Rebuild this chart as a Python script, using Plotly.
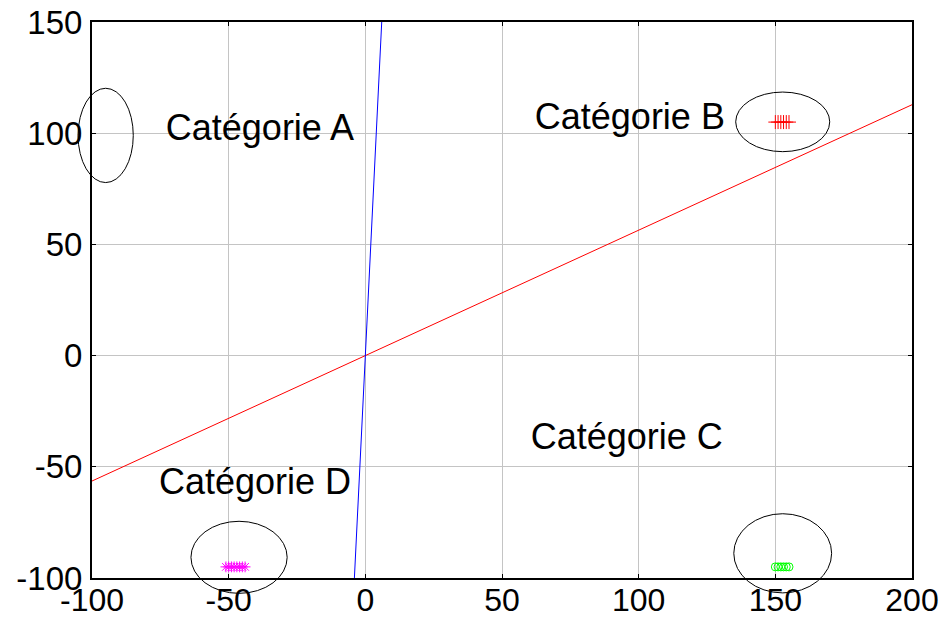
import plotly.graph_objects as go

# Axis limits and ticks
x_range = [-100, 200]
y_range = [-100, 150]
x_ticks = [-100, -50, 0, 50, 100, 150, 200]
y_ticks = [-100, -50, 0, 50, 100, 150]

# Separating lines (two end points each)
blue_line_x = [-4, 6]
blue_line_y = [-100, 150]
red_line_x = [-100, 200]
red_line_y = [-56.4, 112.8]

# Class samples
a_x = [-101]
a_y = [100]
b_x = [150, 151, 152, 153, 154, 155]
b_y = [105, 105, 105, 105, 105, 105]
c_x = [150, 151, 152, 153, 154, 155]
c_y = [-95, -95, -95, -95, -95, -95]
d_x = [-51, -50, -49, -48, -47, -46, -45, -44]
d_y = [-95, -95, -95, -95, -95, -95, -95, -95]

# Category labels (left anchor)
label_text = ["Catégorie A", "Catégorie B", "Catégorie C", "Catégorie D"]
label_x = [-73, 62, 60.5, -75.5]
label_y = [101, 106, -38, -58]

# Cluster ellipses: centre x, centre y, radius x, radius y
ell_cx = [-95, 152.7, 152.7, -46.2]
ell_cy = [99, 105.1, -88.9, -90.7]
ell_rx = [10.1, 17.2, 17.9, 17.6]
ell_ry = [21.2, 13.4, 17.8, 16.2]

fig = go.Figure()

fig.add_trace(go.Scatter(x=red_line_x, y=red_line_y, mode="lines",
                         line=dict(color="#ff0000", width=1), showlegend=False))
fig.add_trace(go.Scatter(x=blue_line_x, y=blue_line_y, mode="lines",
                         line=dict(color="#0000ff", width=1), showlegend=False))

fig.add_trace(go.Scatter(x=a_x, y=a_y, mode="markers", cliponaxis=False,
                         marker=dict(symbol="square-open", size=10, color="#0000ff",
                                     line=dict(width=1)), showlegend=False))
fig.add_trace(go.Scatter(x=b_x, y=b_y, mode="markers", cliponaxis=False,
                         marker=dict(symbol="cross-thin-open", size=10, color="#ff0000",
                                     line=dict(width=1, color="#ff0000")), showlegend=False))
fig.add_trace(go.Scatter(x=c_x, y=c_y, mode="markers", cliponaxis=False,
                         marker=dict(symbol="circle-open", size=8, color="#00ff00",
                                     line=dict(width=1, color="#00ff00")), showlegend=False))
fig.add_trace(go.Scatter(x=d_x, y=d_y, mode="markers", cliponaxis=False,
                         marker=dict(symbol="asterisk-open", size=9, color="#ff00ff",
                                     line=dict(width=1, color="#ff00ff")), showlegend=False))

fig.add_trace(go.Scatter(x=label_x, y=label_y, mode="text", text=label_text,
                         textposition="middle right", cliponaxis=False,
                         textfont=dict(family="Liberation Sans, Arial, sans-serif",
                                       size=36, color="black"),
                         showlegend=False))

# Ellipses are placed in axis-domain units so they may spill past the frame
def to_dom(v, rng):
    return (v - rng[0]) / (rng[1] - rng[0])

for cx, cy, rx, ry in zip(ell_cx, ell_cy, ell_rx, ell_ry):
    fig.add_shape(type="circle", xref="x domain", yref="y domain",
                  x0=to_dom(cx - rx, x_range), x1=to_dom(cx + rx, x_range),
                  y0=to_dom(cy - ry, y_range), y1=to_dom(cy + ry, y_range),
                  line=dict(color="black", width=1), layer="above")

axis_common = dict(showgrid=True, gridcolor="#c4c4c4", gridwidth=1,
                   showline=True, linecolor="black", linewidth=2, mirror="ticks",
                   ticks="inside", ticklen=4, tickcolor="black", tickwidth=1,
                   zeroline=False, automargin=False)

fig.update_xaxes(range=x_range, tickvals=x_ticks, ticktext=[str(v) for v in x_ticks],
                 tickfont=dict(family="Liberation Sans, Arial, sans-serif",
                               size=32, color="black"),
                 ticklabelstandoff=-7, **axis_common)
fig.update_yaxes(range=y_range, tickvals=y_ticks, ticktext=[str(v) for v in y_ticks],
                 tickfont=dict(family="Liberation Sans, Arial, sans-serif", size=33, color="black"),
                 ticklabelstandoff=1, **axis_common)

fig.update_layout(width=945, height=617, margin=dict(l=92, r=33, t=22, b=39),
                  paper_bgcolor="white", plot_bgcolor="white")

fig.write_html("out.html")
